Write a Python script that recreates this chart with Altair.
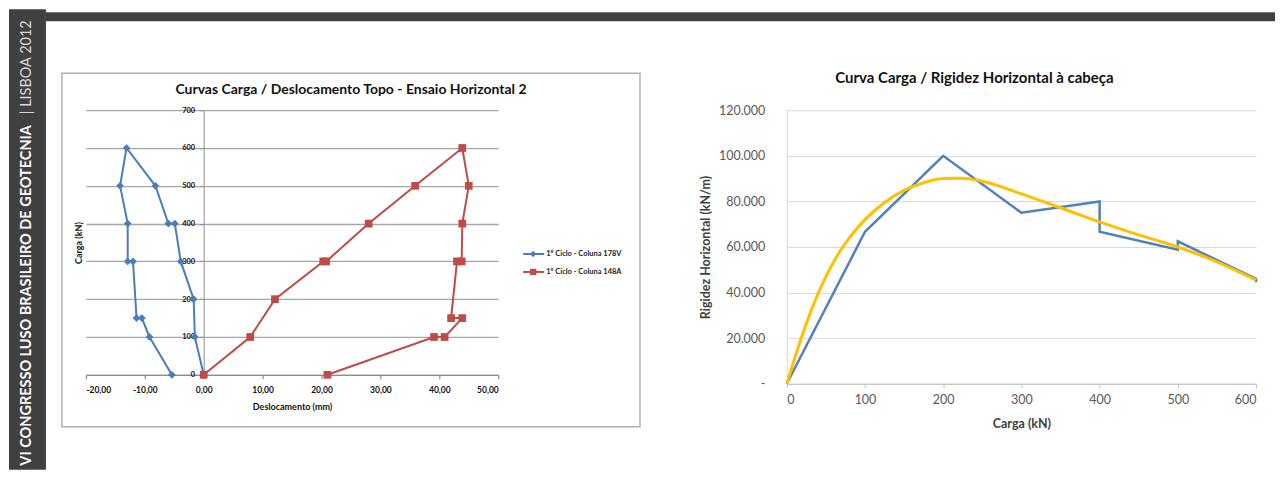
import altair as alt
import pandas as pd

# ---------------- data: left chart (load / displacement) ----------------
series_names = ["1º Ciclo - Coluna 178V", "1º Ciclo - Coluna 148A"]
series_colors = ["#4A7EBB", "#BE4B48"]
series_shapes = ["diamond", "square"]

blue_disp = [-5.4, -9.2, -10.5, -11.4, -12.0, -12.9, -12.9, -14.2, -13.1, -8.2, -6.0, -4.9, -3.9, -1.7, -1.5, 0.0]
blue_load = [0, 100, 150, 150, 300, 300, 400, 500, 600, 500, 400, 400, 300, 200, 100, 0]

red_disp = [0.0, 7.9, 12.1, 20.3, 20.8, 28.0, 35.9, 43.9, 45.0, 43.9, 43.8, 43.0, 42.0, 43.9, 40.9, 39.1, 21.0]
red_load = [0, 100, 200, 300, 300, 400, 500, 600, 500, 400, 300, 300, 150, 150, 100, 100, 0]

left_x_ticks = [-20, -10, 0, 10, 20, 30, 40, 50]
left_y_ticks = [0, 100, 200, 300, 400, 500, 600, 700]

left_title = "Curvas Carga / Deslocamento Topo - Ensaio Horizontal 2"
left_y_title = "Carga (kN)"
left_x_title = "Deslocamento (mm)"

# ---------------- data: right chart (load / stiffness) ----------------
rig_load = [0, 100, 200, 300, 400, 400, 500, 500, 600, 600]
rig_stiff = [0, 66667, 100000, 75000, 80000, 66667, 58800, 62500, 46000, 44500]

trend_load = [0, 10, 20, 30, 40, 50, 65, 80, 100, 125, 150, 175, 200, 225, 250, 300, 350, 400, 450, 500, 550, 600]
trend_stiff = [0, 11000, 21500, 31000, 39500, 47000, 56500, 64000, 72000, 79500, 84800, 88200, 90000, 90200,
               88800, 83300, 77200, 71000, 65300, 60000, 53500, 45500]

right_x_ticks = [0, 100, 200, 300, 400, 500, 600]
right_y_ticks = [0, 20000, 40000, 60000, 80000, 100000, 120000]

right_title = "Curva Carga / Rigidez Horizontal à cabeça"

side_text_bold = "VI CONGRESSO LUSO BRASILEIRO DE GEOTECNIA"
side_text_light = "|  LISBOA 2012"

FONT = "Lato"

# ---------------- tables ----------------
left_df = pd.concat([
    pd.DataFrame({"series": series_names[0], "disp": blue_disp, "load": blue_load,
                  "idx": range(len(blue_disp))}),
    pd.DataFrame({"series": series_names[1], "disp": red_disp, "load": red_load,
                  "idx": range(len(red_disp))}),
], ignore_index=True)

rig_df = pd.DataFrame({"load": rig_load, "stiff": rig_stiff, "idx": range(len(rig_load))})
trend_df = pd.DataFrame({"load": trend_load, "stiff": trend_stiff})

one = pd.DataFrame({"a": [0]})

# ---------------- left chart ----------------
LW, LH = 413, 265

xl = alt.X("disp:Q",
           scale=alt.Scale(domain=[-20, 50], nice=False, zero=False),
           axis=alt.Axis(values=left_x_ticks, grid=False, domainColor="#8c8c8c", domainWidth=1.2,
                         tickColor="#8c8c8c", tickSize=4, tickWidth=1.2,
                         labelExpr="(datum.value < 0 ? '-' : '') + replace(format(abs(datum.value), '.2f'), '.', ',')",
                         labelFont=FONT, labelFontSize=8.5, labelFontWeight="bold", labelColor="#111111",
                         labelPadding=7,
                         title=left_x_title, titleFont=FONT, titleFontSize=9,
                         titleFontWeight="bold", titleColor="#111111", titlePadding=8))
yl = alt.Y("load:Q",
           scale=alt.Scale(domain=[0, 700], nice=False),
           axis=alt.Axis(values=left_y_ticks, offset=-118, grid=True, gridColor="#a6a6a6", gridWidth=1.3,
                         domainColor="#a0a0a0", domainWidth=1.2, tickColor="#8c8c8c", tickSize=4,
                         labelFont=FONT, labelFontSize=7.5, labelFontWeight="bold", labelColor="#111111",
                         labelPadding=5, title=""))

color_scale = alt.Scale(domain=series_names, range=series_colors)
shape_scale = alt.Scale(domain=series_names, range=series_shapes)

base_left = alt.Chart(left_df)
left_lines = base_left.mark_line(strokeWidth=2).encode(
    x=xl, y=yl, order="idx:Q",
    color=alt.Color("series:N", scale=color_scale, legend=None),
    detail="series:N")
left_points = base_left.mark_point(filled=True, size=60, opacity=1).encode(
    x=xl, y=yl,
    color=alt.Color("series:N", scale=color_scale, legend=None),
    shape=alt.Shape("series:N", scale=shape_scale, legend=None))

# slide decorations (pixel positions relative to the left plot area)
band = alt.Chart(one).mark_rect(color="#404040").encode(
    x=alt.value(-77), x2=alt.value(-40), y=alt.value(-101), y2=alt.value(360))
topbar = alt.Chart(one).mark_rect(color="#404040").encode(
    x=alt.value(-40), x2=alt.value(1191), y=alt.value(-98), y2=alt.value(-89))
box = alt.Chart(one).mark_rect(fill="transparent", stroke="#b0b0b0", strokeWidth=1.5).encode(
    x=alt.value(-24), x2=alt.value(555), y=alt.value(-37), y2=alt.value(317))
side_bold = alt.Chart(one).mark_text(angle=270, align="left", baseline="middle", font=FONT,
                                     fontSize=14.5, fontWeight="bold", color="#ffffff").encode(
    x=alt.value(-59), y=alt.value(356), text=alt.value(side_text_bold))
side_light = alt.Chart(one).mark_text(angle=270, align="left", baseline="middle", font=FONT,
                                      fontSize=14.5, color="#d8d8d8").encode(
    x=alt.value(-59), y=alt.value(4), text=alt.value(side_text_light))
ytitle_left = alt.Chart(one).mark_text(angle=270, align="center", baseline="middle", font=FONT,
                                       fontSize=9, fontWeight="bold", color="#111111").encode(
    x=alt.value(-7), y=alt.value(133), text=alt.value(left_y_title))
title_left = alt.Chart(one).mark_text(align="center", baseline="middle", font=FONT,
                                      fontSize=14, fontWeight="bold", color="#111111").encode(
    x=alt.value(265.5), y=alt.value(-20), text=alt.value(left_title))


def legend_entry(i, ypix):
    d = pd.DataFrame({"series": [series_names[i]]})
    c = alt.Chart(d)
    rule = c.mark_rule(color=series_colors[i], strokeWidth=2).encode(
        x=alt.value(438), x2=alt.value(459), y=alt.value(ypix))
    pt = c.mark_point(filled=True, opacity=1, color=series_colors[i], shape=series_shapes[i],
                      size=40).encode(x=alt.value(448), y=alt.value(ypix))
    tx = c.mark_text(align="left", baseline="middle", font=FONT, fontSize=7.5, fontWeight="bold",
                     color="#222222").encode(x=alt.value(461), y=alt.value(ypix), text="series:N")
    return [rule, pt, tx]


left = alt.layer(
    band, topbar, box, side_bold, side_light, ytitle_left, title_left,
    left_lines, left_points,
    *legend_entry(0, 144), *legend_entry(1, 162),
).properties(width=LW, height=LH)

# ---------------- right chart ----------------
RW, RH = 470, 274

xr = alt.X("load:Q", scale=alt.Scale(domain=[0, 600], nice=False),
           axis=alt.Axis(values=right_x_ticks, grid=False, domainColor="#bfbfbf", domainWidth=1,
                         tickColor="#bfbfbf", tickSize=4, labelFont=FONT, labelFontSize=12.5,
                         labelColor="#595959", labelPadding=6,
                         title="Carga (kN)", titleFont=FONT, titleFontSize=12.5, titleFontWeight="bold",
                         titleColor="#404040", titlePadding=11))
yr = alt.Y("stiff:Q", scale=alt.Scale(domain=[0, 120000], nice=False),
           axis=alt.Axis(values=right_y_ticks, grid=True, gridColor="#d9d9d9", gridWidth=1,
                         domainColor="#d9d9d9", ticks=False, labelFont=FONT, labelFontSize=12.5,
                         labelColor="#595959", labelPadding=22,
                         labelExpr="datum.value == 0 ? '-' : replace(format(datum.value, ',d'), ',', '.')",
                         title="Rigidez Horizontal  (kN/m)", titleFont=FONT, titleFontSize=12.5,
                         titleFontWeight="bold", titleColor="#404040", titlePadding=6))

rig_line = alt.Chart(rig_df).mark_line(color="#4F81BD", strokeWidth=2.5).encode(
    x=xr, y=yr, order="idx:Q")
trend_line = alt.Chart(trend_df).mark_line(color="#FFC000", strokeWidth=3, interpolate="monotone").encode(
    x=xr, y=yr)
title_right = alt.Chart(one).mark_text(align="center", baseline="middle", font=FONT,
                                       fontSize=15, fontWeight="bold", color="#111111").encode(
    x=alt.value(188), y=alt.value(-32), text=alt.value(right_title))

right = alt.layer(rig_line, trend_line, title_right).properties(width=RW, height=RH)

chart = alt.hconcat(left, right, spacing=289, bounds="flush").properties(
    padding=0, background="#ffffff"
).configure_view(stroke="transparent")

chart.save("out.html", embed_options={"renderer": "svg", "actions": False})
